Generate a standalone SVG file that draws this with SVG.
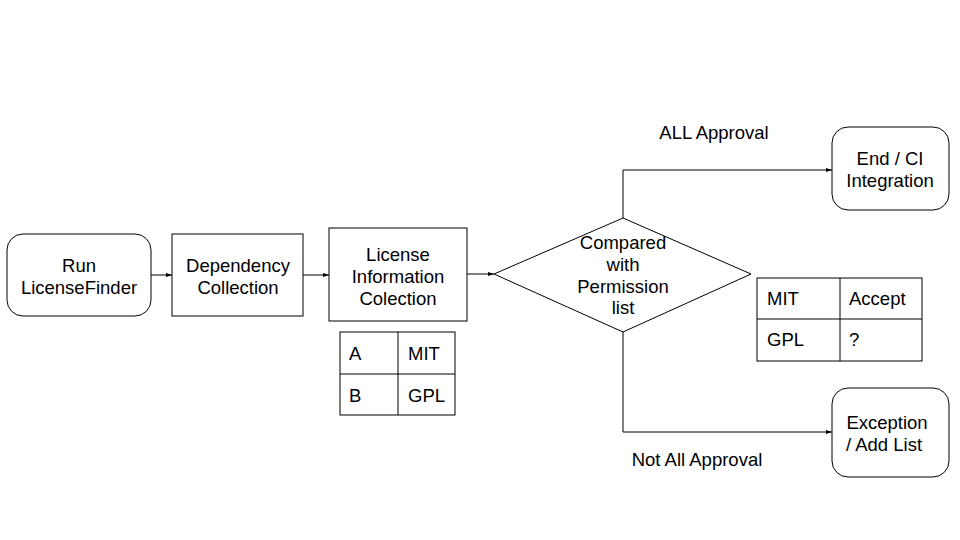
<svg xmlns="http://www.w3.org/2000/svg" width="960" height="540" viewBox="0 0 960 540">
<defs>
<marker id="arr" markerWidth="6" markerHeight="6" refX="6" refY="3" orient="auto" markerUnits="userSpaceOnUse">
<path d="M0,1 L6,3 L0,5 Z" fill="#000"/>
</marker>
<style>
.box{fill:#fff;stroke:#000;stroke-width:1}
.t{font-family:"Liberation Sans",Arial,sans-serif;font-size:18.5px;fill:#000}
.c{text-anchor:middle}
.ln{fill:none;stroke:#000;stroke-width:1}
</style>
</defs>
<rect width="960" height="540" fill="#fff"/>
<g id="connectors">
<line class="ln" x1="151" y1="275" x2="172" y2="275" marker-end="url(#arr)"/>
<line class="ln" x1="303" y1="275" x2="329" y2="275" marker-end="url(#arr)"/>
<line class="ln" x1="467" y1="274" x2="494" y2="274" marker-end="url(#arr)"/>
<polyline class="ln" points="623,218 623,170 832,170" marker-end="url(#arr)"/>
<polyline class="ln" points="623,332 623,432 832,432" marker-end="url(#arr)"/>
<text class="t c" x="714" y="139">ALL Approval</text>
<text class="t c" x="697" y="466">Not All Approval</text>
</g>
<g id="run">
<rect class="box" x="7" y="234" width="144" height="82" rx="16"/>
<text class="t c" x="79" y="272">Run</text>
<text class="t c" x="79" y="294">LicenseFinder</text>
</g>
<g id="dependency">
<rect class="box" x="172" y="234" width="131" height="82"/>
<text class="t c" x="238" y="272">Dependency</text>
<text class="t c" x="238" y="294">Collection</text>
</g>
<g id="license">
<rect class="box" x="329" y="228" width="138" height="93"/>
<text class="t c" x="398" y="261">License</text>
<text class="t c" x="398" y="283">Information</text>
<text class="t c" x="398" y="305">Colection</text>
</g>
<g id="table1">
<rect class="box" x="340" y="332" width="115" height="83"/>
<line class="ln" x1="398" y1="332" x2="398" y2="415"/>
<line class="ln" x1="340" y1="374" x2="455" y2="374"/>
<text class="t" x="349" y="360">A</text>
<text class="t" x="408" y="360">MIT</text>
<text class="t" x="349" y="402">B</text>
<text class="t" x="408" y="402">GPL</text>
</g>
<g id="decision">
<polygon class="box" points="494,274 623,218 751,274 623,332"/>
<text class="t c" x="623" y="249">Compared</text>
<text class="t c" x="623" y="271">with</text>
<text class="t c" x="623" y="293">Permission</text>
<text class="t c" x="623" y="314">list</text>
</g>
<g id="table2">
<rect class="box" x="757" y="278" width="165" height="83"/>
<line class="ln" x1="840" y1="278" x2="840" y2="361"/>
<line class="ln" x1="757" y1="319" x2="922" y2="319"/>
<text class="t" x="767" y="305">MIT</text>
<text class="t" x="849" y="305">Accept</text>
<text class="t" x="767" y="346">GPL</text>
<text class="t" x="849" y="346">?</text>
</g>
<g id="end">
<rect class="box" x="832" y="127" width="117" height="83" rx="16"/>
<text class="t c" x="890" y="165">End / CI</text>
<text class="t c" x="890" y="187">Integration</text>
</g>
<g id="exception">
<rect class="box" x="832" y="388" width="117" height="89" rx="16"/>
<text class="t c" x="887" y="429">Exception</text>
<text class="t c" x="884" y="451">/ Add List</text>
</g>
</svg>
